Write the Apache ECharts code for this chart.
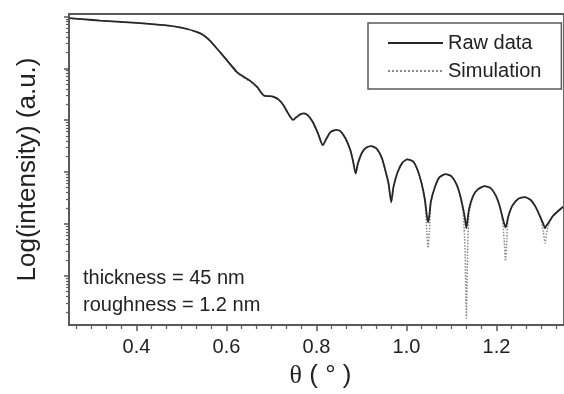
<!DOCTYPE html>
<html>
<head>
<meta charset="utf-8">
<title>XRR</title>
<script src="https://cdn.jsdelivr.net/npm/echarts@6/dist/echarts.min.js"></script>
<style>
html, body { margin: 0; padding: 0; background: #fff; }
#chart { width: 564px; height: 394px; }
</style>
</head>
<body>
<div id="chart"></div>
<script>
// theta in degrees, intensities as log10 (a.u.)
var theta = [0.251, 0.286, 0.319, 0.373, 0.428, 0.471, 0.493, 0.515, 0.530, 0.543,
  0.552, 0.563, 0.574, 0.587, 0.602, 0.613, 0.624, 0.637, 0.652, 0.668,
  0.679, 0.685, 0.696, 0.705, 0.716, 0.727, 0.737, 0.748, 0.755, 0.764,
  0.772, 0.781, 0.792, 0.803, 0.814, 0.823, 0.831, 0.844, 0.853, 0.864,
  0.875, 0.881, 0.887, 0.892, 0.901, 0.910, 0.922, 0.934, 0.945, 0.953,
  0.960, 0.966, 0.971, 0.980, 0.991, 1.002, 1.015, 1.025, 1.034, 1.041,
  1.045, 1.048, 1.051, 1.054, 1.063, 1.073, 1.087, 1.100, 1.111, 1.119,
  1.126, 1.130, 1.133, 1.136, 1.139, 1.148, 1.159, 1.174, 1.187, 1.198,
  1.207, 1.213, 1.217, 1.220, 1.223, 1.226, 1.235, 1.248, 1.263, 1.276,
  1.287, 1.298, 1.304, 1.308, 1.311, 1.316, 1.324, 1.331, 1.348]

var rawLog = [5.966, 5.943, 5.920, 5.890, 5.858, 5.824, 5.795, 5.753, 5.712, 5.668,
  5.617, 5.535, 5.427, 5.298, 5.142, 5.032, 4.922, 4.843, 4.763, 4.643,
  4.510, 4.467, 4.463, 4.448, 4.397, 4.283, 4.131, 4.004, 4.055, 4.112,
  4.131, 4.093, 3.960, 3.751, 3.518, 3.657, 3.770, 3.814, 3.789, 3.657,
  3.429, 3.220, 2.973, 3.163, 3.372, 3.467, 3.499, 3.448, 3.277, 3.030,
  2.784, 2.423, 2.708, 2.992, 3.182, 3.245, 3.201, 3.030, 2.765, 2.461,
  2.173, 2.030, 2.173, 2.423, 2.708, 2.898, 2.960, 2.917, 2.765, 2.556,
  2.290, 2.101, 1.917, 2.101, 2.290, 2.537, 2.670, 2.727, 2.689, 2.556,
  2.347, 2.139, 2.010, 1.930, 2.010, 2.139, 2.347, 2.480, 2.518, 2.461,
  2.328, 2.120, 2.000, 1.917, 1.968, 2.025, 2.139, 2.201, 2.330]

var simLog = [5.966, 5.943, 5.920, 5.890, 5.858, 5.824, 5.795, 5.753, 5.712, 5.668,
  5.617, 5.535, 5.427, 5.298, 5.142, 5.010, 4.905, 4.830, 4.750, 4.630,
  4.500, 4.460, 4.460, 4.445, 4.397, 4.283, 4.131, 4.000, 4.055, 4.112,
  4.131, 4.093, 3.960, 3.751, 3.510, 3.657, 3.770, 3.814, 3.789, 3.657,
  3.429, 3.220, 2.960, 3.163, 3.372, 3.467, 3.499, 3.448, 3.277, 3.030,
  2.784, 2.410, 2.708, 2.992, 3.182, 3.245, 3.201, 3.030, 2.765, 2.440,
  1.854, 1.537, 1.854, 2.400, 2.708, 2.898, 2.960, 2.917, 2.765, 2.556,
  2.200, 1.550, 0.184, 1.550, 2.200, 2.537, 2.670, 2.727, 2.689, 2.556,
  2.347, 2.100, 1.700, 1.285, 1.700, 2.100, 2.347, 2.480, 2.518, 2.461,
  2.328, 2.100, 1.850, 1.632, 1.800, 2.000, 2.139, 2.201, 2.330]

var xMajorTicks = [0.4, 0.6, 0.8, 1.0, 1.2]
var xMinorTicks = []
for (var k = 8; k <= 40; k++) {
  if (k % 6 !== 0) xMinorTicks.push(k / 30)
}
var yMajorTicks = [1, 2, 3, 4, 5, 6]
var yMinorTicks = []
for (var d = 0; d < 6; d++) {
  for (var m = 2; m <= 9; m++) yMinorTicks.push(d + Math.log10(m))
}

function pairs(ys) {
  return theta.map(function(t, i) { return [t, ys[i]] })
}

var axisCol = '#5a5a5a'
var textCol = '#222'
var font = 'Liberation Sans, Arial, sans-serif'

var myChart = echarts.init(document.getElementById('chart'))
var option = {
  animation: false,
  textStyle: { fontFamily: font },
  grid: {
    left: 69,
    top: 14,
    width: 504,
    bottom: 64,
    show: true,
    borderColor: axisCol,
    borderWidth: 1.8
  },
  legend: {
    orient: 'vertical',
    left: 368,
    top: 23,
    padding: [9, 20, 7, 19],
    itemWidth: 55,
    itemHeight: 14,
    itemGap: 6,
    borderColor: axisCol,
    borderWidth: 1.5,
    itemStyle: { opacity: 0 },
    textStyle: { fontSize: 20, color: textCol, lineHeight: 22, fontFamily: font },
    data: ['Raw data', 'Simulation']
  },
  xAxis: [
    {
      type: 'value',
      min: 0.25,
      max: 1.35,
      name: '{t|θ} ( ° )',
      nameLocation: 'middle',
      nameGap: 38,
      nameTextStyle: {
        fontSize: 26,
        color: textCol,
        fontFamily: font,
        padding: [0, 0, 0, 8],
        rich: { t: { fontSize: 26, fontFamily: 'Liberation Serif, serif', color: textCol } }
      },
      axisLine: { show: true, lineStyle: { color: axisCol, width: 1.8 } },
      axisTick: { show: true, inside: false, length: 6, customValues: xMajorTicks, lineStyle: { color: axisCol, width: 1.5 } },
      axisLabel: {
        customValues: xMajorTicks,
        margin: 12,
        fontSize: 20,
        color: textCol,
        formatter: function(v) { return v.toFixed(1) }
      },
      splitLine: { show: false }
    },
    {
      type: 'value',
      min: 0.25,
      max: 1.35,
      position: 'bottom',
      axisLine: { show: false },
      axisTick: { show: true, length: 4, customValues: xMinorTicks, lineStyle: { color: axisCol, width: 1.2 } },
      axisLabel: { show: false },
      splitLine: { show: false }
    }
  ],
  yAxis: [
    {
      type: 'value',
      min: 0.051,
      max: 6.047,
      name: 'Log(intensity) (a.u.)',
      nameLocation: 'middle',
      nameGap: 28,
      nameTextStyle: { fontSize: 26, color: textCol, fontFamily: font },
      axisLine: { show: true, lineStyle: { color: axisCol, width: 1.8 } },
      axisTick: { show: true, length: 5, customValues: yMajorTicks, lineStyle: { color: axisCol, width: 1.5 } },
      axisLabel: { show: false },
      splitLine: { show: false }
    },
    {
      type: 'value',
      min: 0.051,
      max: 6.047,
      position: 'left',
      axisLine: { show: false },
      axisTick: { show: true, length: 3, customValues: yMinorTicks, lineStyle: { color: axisCol, width: 1.2 } },
      axisLabel: { show: false },
      splitLine: { show: false }
    }
  ],
  graphic: [
    {
      type: 'text',
      left: 83,
      top: 268,
      style: { text: 'thickness = 45 nm', font: '20px ' + font, fill: textCol }
    },
    {
      type: 'text',
      left: 83,
      top: 295,
      style: { text: 'roughness = 1.2 nm', font: '20px ' + font, fill: textCol }
    }
  ],
  series: [
    {
      name: 'Simulation',
      type: 'line',
      data: pairs(simLog),
      showSymbol: false,
      symbol: 'none',
      smooth: 0.2,
      z: 2,
      lineStyle: { color: '#8a8a8a', width: 1.5, type: 'dotted' },
      itemStyle: { color: '#8a8a8a' }
    },
    {
      name: 'Raw data',
      type: 'line',
      data: pairs(rawLog),
      showSymbol: false,
      symbol: 'none',
      smooth: 0.2,
      z: 3,
      lineStyle: { color: '#262626', width: 1.8 },
      itemStyle: { color: '#262626' }
    }
  ]
}
myChart.setOption(option)
</script>
</body>
</html>
